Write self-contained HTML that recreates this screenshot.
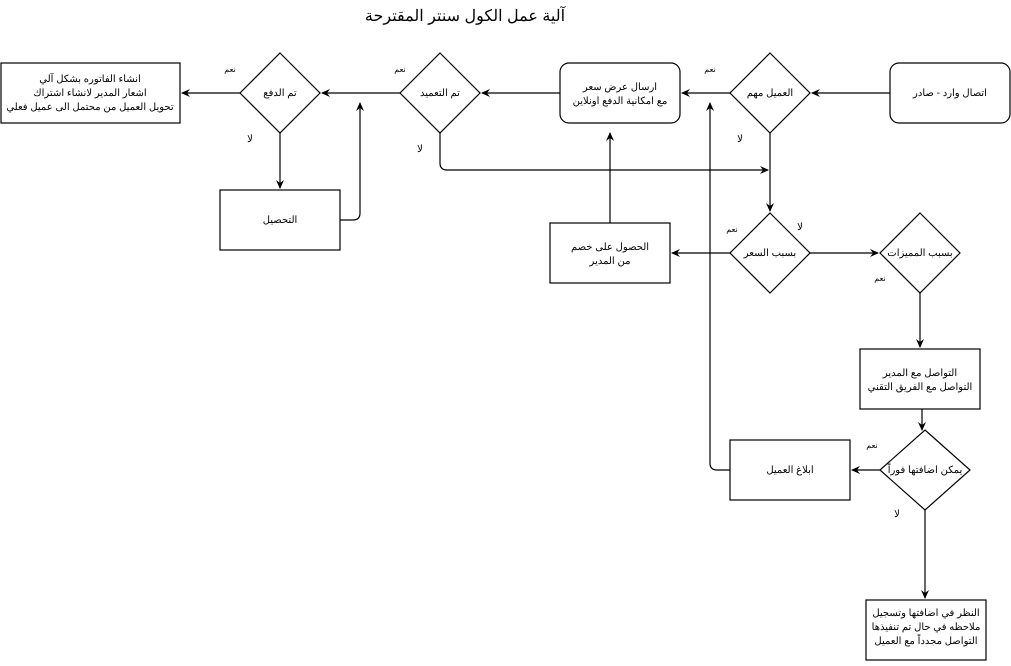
<!DOCTYPE html>
<html><head><meta charset="utf-8"><style>
body{margin:0;background:#fff}
svg text{font-family:"Liberation Sans","Noto Sans CJK SC",sans-serif;font-size:10px;fill:#000}
</style></head><body>
<svg width="1011" height="661" viewBox="0 0 1011 661" xmlns="http://www.w3.org/2000/svg">
<defs><marker id="a" markerWidth="10" markerHeight="10" refX="8" refY="5" orient="auto" markerUnits="userSpaceOnUse"><path d="M0,1 L9,5 L0,9 L3,5 Z" fill="#000"/></marker></defs>
<g fill="none" stroke="#000" stroke-width="1.2">
<text x="465" y="21" text-anchor="middle" style="font-size:16px" stroke="none">آلية عمل الكول سنتر المقترحة</text>
<rect x="1" y="63" width="179" height="60"/>
<polygon points="280,53 320,93 280,133 240,93"/>
<polygon points="440,53 480,93 440,133 400,93"/>
<rect x="220" y="190" width="120" height="60"/>
<rect x="560" y="63" width="120" height="60" rx="9"/>
<polygon points="770,53 810,93 770,133 730,93"/>
<rect x="890" y="63" width="120" height="60" rx="9"/>
<polygon points="770,213 810,253 770,293 730,253"/>
<rect x="550" y="223" width="120" height="60"/>
<polygon points="920,213 960,253 920,293 880,253"/>
<rect x="860" y="349" width="120" height="60"/>
<polygon points="925,430 970,470 925,510 880,470"/>
<rect x="730" y="440" width="120" height="60"/>
<rect x="866" y="600" width="120" height="60"/>
<line x1="890" y1="93" x2="812" y2="93" marker-end="url(#a)"/>
<line x1="730" y1="93" x2="682" y2="93" marker-end="url(#a)"/>
<line x1="560" y1="93" x2="482" y2="93" marker-end="url(#a)"/>
<line x1="400" y1="93" x2="322" y2="93" marker-end="url(#a)"/>
<line x1="240" y1="93" x2="182" y2="93" marker-end="url(#a)"/>
<line x1="280" y1="133" x2="280" y2="188" marker-end="url(#a)"/>
<path d="M340,220 H353 Q360,220 360,213 V103" marker-end="url(#a)"/>
<path d="M440,133 V163 Q440,170 447,170 H768" marker-end="url(#a)"/>
<line x1="770" y1="133" x2="770" y2="211" marker-end="url(#a)"/>
<line x1="730" y1="253" x2="672" y2="253" marker-end="url(#a)"/>
<line x1="610" y1="223" x2="610" y2="133" marker-end="url(#a)"/>
<line x1="810" y1="253" x2="878" y2="253" marker-end="url(#a)"/>
<line x1="920" y1="293" x2="920" y2="347" marker-end="url(#a)"/>
<line x1="922" y1="409" x2="922" y2="430" marker-end="url(#a)"/>
<line x1="880" y1="470" x2="852" y2="470" marker-end="url(#a)"/>
<path d="M730,470 H717 Q710,470 710,463 V103" marker-end="url(#a)"/>
<line x1="925" y1="510" x2="925" y2="598" marker-end="url(#a)"/>
</g>
<g text-anchor="middle" style="direction:rtl">
<text x="90" y="82">انشاء الفاتوره بشكل آلي</text>
<text x="90" y="96">اشعار المدير لانشاء اشتراك</text>
<text x="90" y="110">تحويل العميل من محتمل الى عميل فعلي</text>
<text x="280" y="96">تم الدفع</text>
<text x="440" y="96">تم التعميد</text>
<text x="280" y="223">التحصيل</text>
<text x="620" y="90">ارسال عرض سعر</text>
<text x="620" y="104">مع امكانية الدفع اونلاين</text>
<text x="770" y="96">العميل مهم</text>
<text x="950" y="96">اتصال وارد - صادر</text>
<text x="770" y="256">بسبب السعر</text>
<text x="610" y="250">الحصول على خصم</text>
<text x="610" y="264">من المدير</text>
<text x="920" y="256">بسبب المميزات</text>
<text x="920" y="376">التواصل مع المدير</text>
<text x="920" y="390">التواصل مع الفريق التقني</text>
<text x="925" y="473">يمكن اضافتها فوراً</text>
<text x="790" y="473">ابلاغ العميل</text>
<text x="926" y="616">النظر في اضافتها وتسجيل</text>
<text x="926" y="630">ملاحظه في حال تم تنفيذها</text>
<text x="926" y="644">التواصل مجدداً مع العميل</text>
</g>
<g style="font-size:8px" text-anchor="middle">
<text x="230" y="72" style="font-size:8px">نعم</text>
<text x="400" y="72" style="font-size:8px">نعم</text>
<text x="710" y="72" style="font-size:8px">نعم</text>
<text x="732" y="232" style="font-size:8px">نعم</text>
<text x="880" y="281" style="font-size:8px">نعم</text>
<text x="872" y="448" style="font-size:8px">نعم</text>
<text x="250" y="142">لا</text>
<text x="420" y="152">لا</text>
<text x="740" y="142">لا</text>
<text x="800" y="230">لا</text>
<text x="897" y="517">لا</text>
</g>
</svg>
</body></html>
